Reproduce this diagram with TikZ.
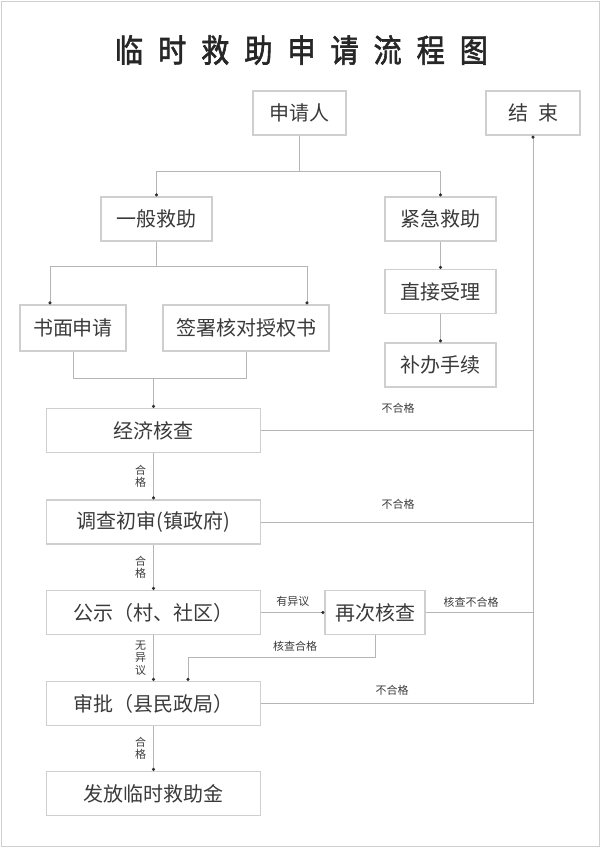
\documentclass[tikz,border=0pt]{standalone}
\usepackage{fontspec}
\newfontfamily\cjk{Noto Sans CJK SC}
\newfontfamily\cjktitle[FakeBold=2]{Noto Sans CJK SC}
\usetikzlibrary{arrows.meta,positioning}
\definecolor{boxc}{HTML}{CFCFCF}
\definecolor{linec}{HTML}{B5B5B5}
\definecolor{textc}{HTML}{3A3A3A}
\definecolor{dotc}{HTML}{303030}

\begin{document}
\begin{tikzpicture}[x=1pt, y=-1pt,
  main/.style = {draw=boxc, line width=1.2pt, text=textc, minimum height=44pt, inner sep=0pt, font=\cjk\fontsize{20}{22}\selectfont},
  link/.style = {draw=linec, line width=0.9pt},
  arr/.style = {link, -{Circle[length=3pt, color=dotc]}},
  lbl/.style = {text=textc, font=\cjk\fontsize{11}{12.5}\selectfont, inner sep=1pt},
  vlbl/.style = {lbl, align=center, left=6pt}]
\useasboundingbox (0,0) rectangle (600,847);
\draw[boxc, line width=1pt] (1,1) rectangle (599,846);
\node[text=black!85, xscale=0.88, font=\cjktitle\fontsize{32}{34}\selectfont] (title) at (301.5,50) {临\hspace{0.53em}时\hspace{0.53em}救\hspace{0.53em}助\hspace{0.53em}申\hspace{0.53em}请\hspace{0.53em}流\hspace{0.53em}程\hspace{0.53em}图};

\node[main, minimum width=93pt] (sqr) at (299.5,113) {申请人};
\node[main, minimum width=94pt] (js) at (533,113) {结\enspace 束};
\node[main, minimum width=111pt] (ybjz) at (156.5,219) {一般救助};
\node[main, minimum width=111pt] (jjjz) at (440.5,219) {紧急救助};
\node[main, minimum width=111pt] (zjsl) at (440.5,291.5) {直接受理};
\node[main, minimum width=111pt] (bbsx) at (440.5,365) {补办手续};
\node[main, minimum width=106pt, minimum height=46pt] (smsq) at (73,328) {书面申请};
\node[main, minimum width=166pt, minimum height=46pt] (qshd) at (246,328) {签署核对授权书};
\node[main, minimum width=214pt] (jjhc) at (153.5,430.5) {经济核查};
\node[main, minimum width=214pt] (dccs) at (153.5,522) {调查初审(镇政府)};
\node[main, minimum width=214pt] (gs) at (153.5,612.5) {公示（村、社区）};
\node[main, minimum width=100pt] (zchc) at (375,612.5) {再次核查};
\node[main, minimum width=214pt] (sp) at (153.5,703.5) {审批（县民政局）};
\node[main, minimum width=214pt] (ff) at (153.5,793.5) {发放临时救助金};

\coordinate (split1) at (299.5,171);
\coordinate (split2) at (156.5,266);
\coordinate (merge) at (153.5,378);
\coordinate (hcb) at (188,657);

\draw[link] (sqr) -- (split1);
\draw[arr] (split1) -| (ybjz);
\draw[arr] (split1) -| (jjjz);
\draw[link] (ybjz) -- (split2);
\draw[arr] (split2) -| ([xshift=-23pt]smsq.north);
\draw[arr] (split2) -| ([xshift=61pt]qshd.north);
\draw[arr] (jjjz) -- (zjsl);
\draw[arr] (zjsl) -- (bbsx);
\draw[link] (smsq) |- (merge);
\draw[link] (qshd) |- (merge);
\draw[arr] (merge) -- (jjhc);

\draw[arr] (jjhc) -- node[vlbl] (hg1) {合\\格} (dccs);
\draw[arr] (dccs) -- node[vlbl] (hg2) {合\\格} (gs);
\draw[arr] (gs) -- node[vlbl] (wyy) {无\\异\\议} (sp);
\draw[arr] (sp) -- node[vlbl] (hg3) {合\\格} (ff);
\draw[arr] (gs) -- node[lbl, above=5pt] (yyy) {有异议} (zchc);
\draw[arr] (zchc) |- (hcb) -- (hcb |- sp.north);
\node[lbl] (hchg) at (295,646) {核查合格};

\draw[link] (jjhc) -- (jjhc -| js);
\draw[link] (dccs) -- (dccs -| js);
\draw[link] (zchc) -- (zchc -| js);
\draw[arr] (sp) -| (js);
\node[lbl] (bhg1) at (398,408) {不合格};
\node[lbl] (bhg2) at (398,504) {不合格};
\node[lbl] (hcbhg) at (471,602) {核查不合格};
\node[lbl] (bhg3) at (392,690) {不合格};
\end{tikzpicture}
\end{document}
